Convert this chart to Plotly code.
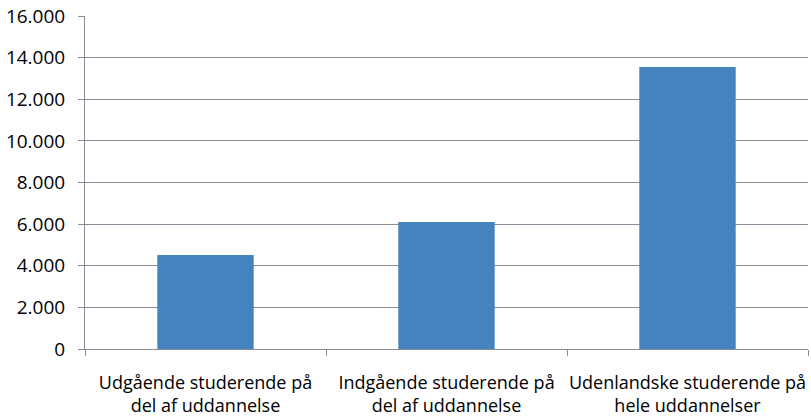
import plotly.graph_objects as go

categories = [
    "Udgående studerende på<br>del af uddannelse",
    "Indgående studerende på<br>del af uddannelse",
    "Udenlandske studerende på<br>hele uddannelser",
]
values = [4520, 6100, 13550]
y_ticks = [0, 2000, 4000, 6000, 8000, 10000, 12000, 14000, 16000]

grid_col = "#8b8b99"
bar_col = "#4483bd"

fig = go.Figure()
fig.add_trace(go.Bar(
    x=categories,
    y=values,
    marker=dict(color=bar_col, line=dict(width=0)),
    width=0.4,
))

fig.update_layout(
    width=811, height=416,
    margin=dict(l=85, r=3, t=16, b=67),
    paper_bgcolor="white",
    plot_bgcolor="white",
    separators=",.",
    font=dict(family="Open Sans, sans-serif", size=18, color="#000000"),
    showlegend=False,
)

fig.update_xaxes(
    type="category",
    tickson="boundaries",
    tickangle=0,
    ticks="outside",
    ticklen=6,
    tickcolor=grid_col,
    showline=True,
    linecolor=grid_col,
    linewidth=1,
    showgrid=False,
    automargin=False,
    ticklabelstandoff=17,
)

fig.update_yaxes(
    range=[0, 16000],
    tickvals=y_ticks,
    tickformat=",d",
    tickfont=dict(size=19),
    ticks="outside",
    ticklen=6,
    tickcolor=grid_col,
    showline=True,
    linecolor=grid_col,
    linewidth=1,
    showgrid=True,
    gridcolor=grid_col,
    gridwidth=1,
    zeroline=False,
    automargin=False,
    ticklabelstandoff=9,
)

# drop the default 8px body margin so the figure fills the window
fig.write_html("out.html", config={"displayModeBar": False},
               post_script="document.body.style.margin='0';")
